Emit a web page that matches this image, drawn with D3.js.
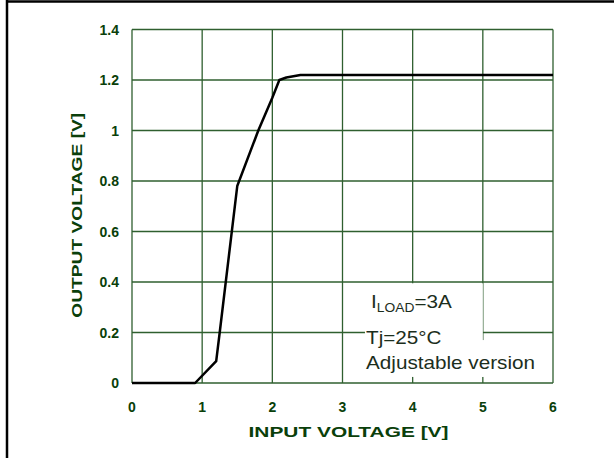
<!DOCTYPE html>
<html>
<head>
<meta charset="utf-8">
<script src="https://cdn.jsdelivr.net/npm/d3@7"></script>
<style>
  body { margin: 0; background: #fff; }
  svg { display: block; }
</style>
</head>
<body>
<svg id="chart"></svg>
<script>
// curve
const inputVoltage  = [0, 0.9, 1.2, 1.25, 1.5, 1.8, 2.0, 2.1, 2.2, 2.4, 6];
const outputVoltage = [0, 0, 0.087, 0.2, 0.78, 1.0, 1.13, 1.2, 1.21, 1.22, 1.22];
const xTicks = [0, 1, 2, 3, 4, 5, 6];
const yTicks = [0, 0.2, 0.4, 0.6, 0.8, 1, 1.2, 1.4];
const noteLines = ["Tj=25°C", "Adjustable version"];

const width = 614, height = 458;
const margin = { left: 132, right: 61, top: 29.5, bottom: 75 };
const green = "#2f5f2f";
const labelColor = "#0a3f0a";

const svg = d3.select("#chart")
    .attr("width", width)
    .attr("height", height);

const x = d3.scaleLinear().domain([0, 6]).range([margin.left, width - margin.right]);
const y = d3.scaleLinear().domain([0, 1.4]).range([height - margin.bottom, margin.top]);

// frame lines of the page (left and top only)
svg.append("line").attr("x1", 7).attr("x2", 7).attr("y1", 0).attr("y2", height)
    .attr("stroke", "#000").attr("stroke-width", 2.5);
svg.append("line").attr("x1", 6).attr("x2", width).attr("y1", 1.5).attr("y2", 1.5)
    .attr("stroke", "#000").attr("stroke-width", 2.5);

// grid
svg.append("g").selectAll("line").data(xTicks).enter().append("line")
    .attr("x1", d => x(d)).attr("x2", d => x(d))
    .attr("y1", y(0)).attr("y2", y(1.4))
    .attr("stroke", green).attr("stroke-width", 1.3);
svg.append("g").selectAll("line").data(yTicks).enter().append("line")
    .attr("x1", x(0)).attr("x2", x(6))
    .attr("y1", d => y(d)).attr("y2", d => y(d))
    .attr("stroke", green).attr("stroke-width", 1.3);

// tick labels
svg.append("g").selectAll("text").data(yTicks).enter().append("text")
    .attr("x", x(0) - 13).attr("y", d => y(d)).attr("dy", "0.36em")
    .attr("text-anchor", "end")
    .attr("font-family", "Liberation Sans, Arial, sans-serif")
    .attr("font-weight", "bold").attr("font-size", 14)
    .attr("fill", labelColor)
    .text(d => d);
svg.append("g").selectAll("text").data(xTicks).enter().append("text")
    .attr("x", d => x(d)).attr("y", y(0) + 29)
    .attr("text-anchor", "middle")
    .attr("font-family", "Liberation Sans, Arial, sans-serif")
    .attr("font-weight", "bold").attr("font-size", 14)
    .attr("fill", labelColor)
    .text(d => d);

// axis titles
svg.append("text")
    .attr("x", (x(0) + x(6)) / 2 + 6).attr("y", y(0) + 54)
    .attr("text-anchor", "middle")
    .attr("font-family", "Liberation Sans, Arial, sans-serif")
    .attr("font-weight", "bold").attr("font-size", 15)
    .attr("textLength", 200).attr("lengthAdjust", "spacingAndGlyphs")
    .attr("fill", labelColor)
    .text("INPUT VOLTAGE [V]");
svg.append("text")
    .attr("transform", `translate(82,${(y(0) + y(1.4)) / 2 + 9}) rotate(-90)`)
    .attr("text-anchor", "middle")
    .attr("font-family", "Liberation Sans, Arial, sans-serif")
    .attr("font-weight", "bold").attr("font-size", 15)
    .attr("textLength", 205).attr("lengthAdjust", "spacingAndGlyphs")
    .attr("fill", labelColor)
    .text("OUTPUT VOLTAGE [V]");

// curve
const pts = inputVoltage.map((v, i) => [v, outputVoltage[i]]);
svg.append("path")
    .datum(pts)
    .attr("d", d3.line().x(d => x(d[0])).y(d => y(d[1])))
    .attr("fill", "none")
    .attr("stroke", "#000")
    .attr("stroke-width", 2.5)
    .attr("stroke-linejoin", "round");

// note box (white background hides grid)
svg.append("rect")
    .attr("x", x(3.32)).attr("y", y(0.395))
    .attr("width", x(5) - x(3.32)).attr("height", y(0.024) - y(0.395))
    .attr("fill", "#fff");
svg.append("rect")
    .attr("x", x(5) - 1).attr("y", y(0.17))
    .attr("width", x(5.9) - x(5)).attr("height", y(0.024) - y(0.17))
    .attr("fill", "#fff");

const noteColor = "#1c2e1c";
const note = svg.append("g")
    .attr("font-family", "Liberation Sans, Arial, sans-serif")
    .attr("font-size", 18)
    .attr("fill", noteColor);

const l1 = note.append("text")
    .attr("transform", `translate(${x(3.35) + 4},307.5) scale(1.15,1)`);
l1.append("tspan").text("I");
l1.append("tspan").attr("font-size", 12).attr("dy", 4).text("LOAD");
l1.append("tspan").attr("dy", -4).text("=3A");

note.selectAll("text.line").data(noteLines).enter().append("text")
    .attr("class", "line")
    .attr("transform", (d, i) => `translate(${x(3.35) - 1},${343.5 + i * 25}) scale(1.15,1)`)
    .text(d => d);
</script>
</body>
</html>
